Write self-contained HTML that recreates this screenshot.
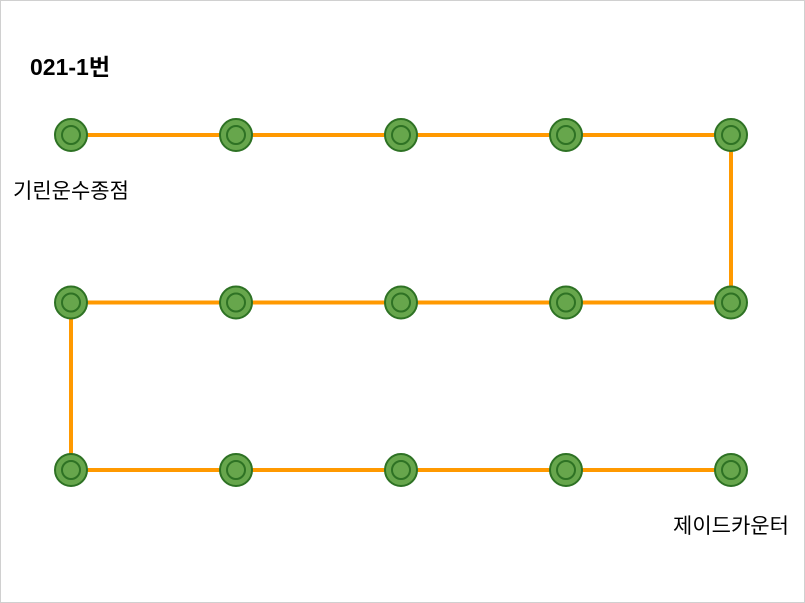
<!DOCTYPE html>
<html><head><meta charset="utf-8"><style>
html,body{margin:0;padding:0;background:#fff}
#wrap{position:relative;width:803px;height:601px;border:1px solid #d0d0d0;overflow:hidden}
svg{position:absolute;left:0;top:0}
text{font-family:"Liberation Sans","Noto Sans CJK KR",sans-serif}
</style></head><body>
<div id="wrap">
<svg id="chart" width="803" height="601">
<text x="29" y="74" font-size="23" font-weight="bold" fill="#000">021-1번</text>
</svg>
</div>
<script>
const stopCount = 15;
const stopsPerRow = 5;
const stopLabels = {0:"기린운수종점", 14:"제이드카운터"};
const colX = c => 70 + c * 165;
const rowY = r => 134 + r * 167.5;
function pos(i){
  const r = Math.floor(i / stopsPerRow);
  let c = i % stopsPerRow;
  if (r % 2 === 1) c = stopsPerRow - 1 - c;
  return [colX(c), rowY(r)];
}
const svg = document.getElementById('chart');
const NS = 'http://www.w3.org/2000/svg';
const pts = [];
for (let i = 0; i < stopCount; i++) pts.push(pos(i));
const line = document.createElementNS(NS, 'polyline');
line.setAttribute('points', pts.map(p => p.join(',')).join(' '));
line.setAttribute('fill', 'none');
line.setAttribute('stroke', '#ff9900');
line.setAttribute('stroke-width', '4');


svg.appendChild(line);
pts.forEach((p, i) => {
  const g = document.createElementNS(NS, 'g');
  
  
  const o = document.createElementNS(NS, 'circle');
  o.setAttribute('cx', p[0]); o.setAttribute('cy', p[1]); o.setAttribute('r', 16);
  o.setAttribute('fill', '#67a64c'); o.setAttribute('stroke', '#2e7224'); o.setAttribute('stroke-width', '2');
  g.appendChild(o);
  const n = document.createElementNS(NS, 'circle');
  n.setAttribute('cx', p[0]); n.setAttribute('cy', p[1]); n.setAttribute('r', 9);
  n.setAttribute('fill', 'none'); n.setAttribute('stroke', '#2e7224'); n.setAttribute('stroke-width', '2');
  g.appendChild(n);
  svg.appendChild(g);
  if (stopLabels[i]) {
    const t = document.createElementNS(NS, 'text');
    t.setAttribute('x', p[0]); t.setAttribute('y', p[1] + 63);
    t.setAttribute('text-anchor', 'middle');
    t.setAttribute('font-size', '21');
    t.setAttribute('fill', '#000');
    t.textContent = stopLabels[i];
    
    
    svg.appendChild(t);
  }
});
</script>
</body></html>
